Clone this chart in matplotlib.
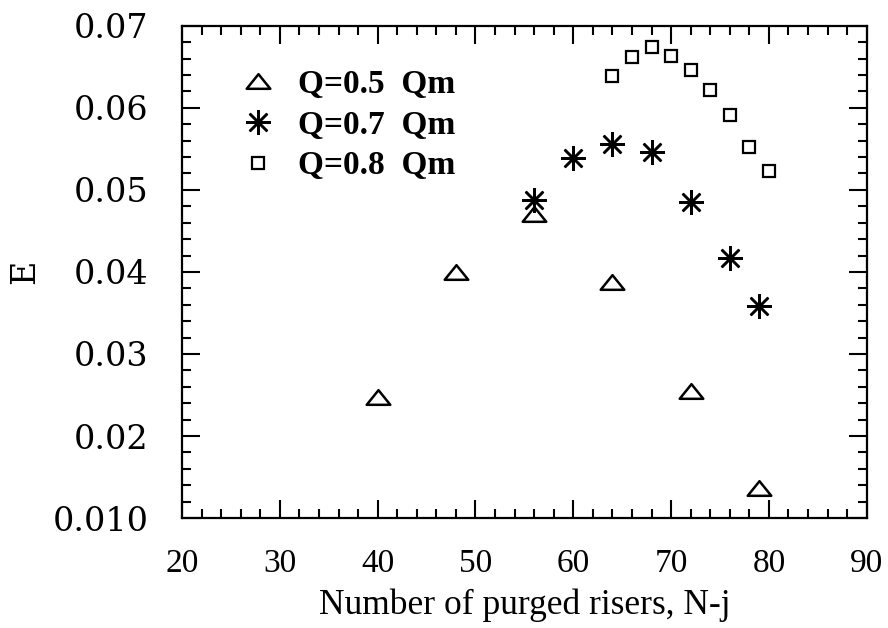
import numpy as np
import matplotlib
matplotlib.use("Agg")
import matplotlib.pyplot as plt
from matplotlib.path import Path

# number of purged risers (N-j) and efficiency E for each flow rate
n_05 = [40, 48, 56, 64, 72, 79]
e_05 = [0.0247, 0.0400, 0.0470, 0.0388, 0.0255, 0.0137]

n_07 = [56, 60, 64, 68, 72, 76, 79]
e_07 = [0.0488, 0.0539, 0.0556, 0.0546, 0.0485, 0.0417, 0.0359]

n_08 = [64, 66, 68, 70, 72, 74, 76, 78, 80]
e_08 = [0.0639, 0.0662, 0.0674, 0.0663, 0.0646, 0.0622, 0.0591, 0.0552, 0.0523]

labels = ["Q=0.5  Qm", "Q=0.7  Qm", "Q=0.8  Qm"]

x_ticks = [20, 30, 40, 50, 60, 70, 80, 90]
y_ticks = [0.01, 0.02, 0.03, 0.04, 0.05, 0.06, 0.07]
y_ticklabels = ["0.010", "0.02", "0.03", "0.04", "0.05", "0.06", "0.07"]

# flattened open triangle
tri = Path([(-1, -0.62), (1, -0.62), (0, 0.62), (-1, -0.62)],
           [Path.MOVETO, Path.LINETO, Path.LINETO, Path.CLOSEPOLY])

fig = plt.figure(figsize=(8.88, 6.28), dpi=100)
ax = fig.add_axes([0.205, 0.175, 0.771, 0.784])

ax.plot(n_05, e_05, linestyle='none', marker=tri, markersize=17,
        markerfacecolor='none', markeredgecolor='black', markeredgewidth=1.8,
        label=labels[0])
ax.plot(n_07, e_07, linestyle='none', marker=(8, 2, 0), markersize=18,
        color='black', markeredgewidth=1.8, label=labels[1])
ax.plot(n_08, e_08, linestyle='none', marker='s', markersize=9,
        markerfacecolor='none', markeredgecolor='black', markeredgewidth=1.6,
        label=labels[2])

ax.set_xlim(20, 90)
ax.set_ylim(0.01, 0.07)
ax.set_xticks(x_ticks)
ax.set_xticks(np.arange(20, 91, 2), minor=True)
ax.set_yticks(y_ticks)
ax.set_yticklabels(y_ticklabels)
ax.set_yticks(np.arange(0.01, 0.0701, 0.002), minor=True)

ax.tick_params(which='both', direction='in', top=True, right=True, width=1.5)
ax.tick_params(which='major', length=13)
ax.tick_params(which='minor', length=6.5)
ax.tick_params(axis='y', pad=24)
ax.tick_params(axis='x', pad=22)

for lbl in ax.get_yticklabels():
    lbl.set_fontfamily('DejaVu Serif')
    lbl.set_fontsize(24)
for lbl in ax.get_xticklabels():
    lbl.set_fontfamily('Liberation Serif')
    lbl.set_fontsize(24)

for sp in ax.spines.values():
    sp.set_linewidth(1.6)

ax.set_xlabel("Number of purged risers, N-j", family='Liberation Serif',
              fontsize=25.5, labelpad=6.5)
ax.set_ylabel("E", family='DejaVu Serif', fontsize=24, labelpad=8)

ax.legend(loc='upper left', frameon=False, bbox_to_anchor=(0.045, 0.973),
          prop={'family': 'Liberation Serif', 'weight': 'bold', 'size': 24},
          handletextpad=0.75, labelspacing=0.29, handlelength=0.9)

fig.savefig("out.png", dpi=100)
